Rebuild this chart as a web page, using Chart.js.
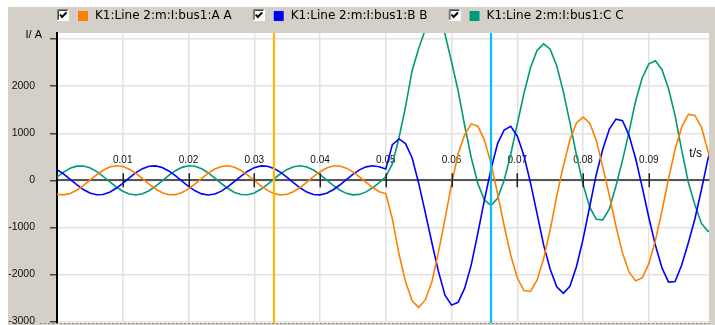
<!DOCTYPE html>
<html>
<head>
<meta charset="utf-8">
<script src="https://cdn.jsdelivr.net/npm/chart.js@4/dist/chart.umd.min.js"></script>
<style>
  html, body { margin: 0; padding: 0; background: #ffffff; }
  canvas { display: block; }
</style>
</head>
<body>
<canvas id="wave" width="715" height="325"></canvas>
<script>
// Sample instants in milliseconds (1 ms recording step)
const timeMs = [
  0, 1, 2, 3, 4, 5, 6, 7, 8, 9, 10, 11, 12, 13, 14, 15, 16, 17, 18, 19,
  20, 21, 22, 23, 24, 25, 26, 27, 28, 29, 30, 31, 32, 33, 34, 35, 36, 37, 38, 39,
  40, 41, 42, 43, 44, 45, 46, 47, 48, 49, 50, 51, 52, 53, 54, 55, 56, 57, 58, 59,
  60, 61, 62, 63, 64, 65, 66, 67, 68, 69, 70, 71, 72, 73, 74, 75, 76, 77, 78, 79,
  80, 81, 82, 83, 84, 85, 86, 87, 88, 89, 90, 91, 92, 93, 94, 95, 96, 97, 98, 99, 100
];

const seriesNames = [
  'K1:Line 2:m:I:bus1:A A',
  'K1:Line 2:m:I:bus1:B B',
  'K1:Line 2:m:I:bus1:C C'
];

// Phase currents in A
const currentA = [
  -296, -309, -279, -210, -112, 3, 117, 214, 282, 310,
  294, 237, 147, 36, -80, -184, -263, -305, -304, -260,
  -180, -74, 42, 152, 241, 296, 309, 279, 210, 112,
  -3, -117, -214, -282, -310, -294, -237, -147, -36, 80,
  184, 263, 305, 304, 260, 180, 74, -42, -152, -241,
  -280, -820, -1560, -2150, -2560, -2700, -2540, -2160, -1530, -825,
  -80, 560, 970, 1200, 1150, 855, 355, -285, -965, -1590,
  -2070, -2340, -2360, -2120, -1665, -1050, -330, 305, 860, 1220,
  1345, 1220, 860, 280, -325, -975, -1545, -1950, -2135, -2070,
  -1770, -1275, -650, 40, 660, 1130, 1400, 1380, 1130, 620, 100
];

const currentB = [
  229, 135, 23, -92, -195, -270, -307, -301, -253, -169,
  -62, 54, 163, 249, 299, 308, 273, 200, 99, -16,
  -129, -223, -287, -310, -290, -229, -135, -23, 92, 195,
  270, 307, 301, 253, 169, 62, -54, -163, -249, -299,
  -308, -273, -200, -99, 16, 129, 223, 287, 310, 290,
  240, 760, 880, 780, 480, -60, -680, -1320, -1930, -2440,
  -2650, -2590, -2290, -1790, -1120, -415, 235, 780, 1070, 1150,
  940, 530, -50, -705, -1370, -1890, -2260, -2400, -2250, -1830,
  -1250, -560, 120, 660, 1090, 1300, 1265, 950, 460, -150,
  -790, -1380, -1860, -2160, -2150, -1800, -1330, -820, -200, 460, 915
];

const currentC = [
  67, 174, 256, 302, 306, 267, 190, 87, -29, -140,
  -232, -291, -310, -285, -220, -124, -10, 105, 205, 276,
  309, 298, 245, 158, 49, -67, -174, -256, -302, -306,
  -267, -190, -87, 29, 140, 232, 291, 310, 285, 220,
  124, 10, -105, -205, -276, -309, -298, -245, -158, -49,
  80, 350, 900, 1560, 2330, 2800, 3200, 3420, 3380, 3110,
  2520, 1900, 1160, 480, -70, -420, -530, -380, 0, 555,
  1200, 1840, 2390, 2760, 2900, 2785, 2430, 1885, 1225, 535,
  -90, -565, -825, -840, -605, -120, 430, 1040, 1690, 2180,
  2475, 2540, 2350, 1945, 1370, 640, -40, -520, -915, -1085, -1010
];

// Axis ticks
const xTickValues = [0.01, 0.02, 0.03, 0.04, 0.05, 0.06, 0.07, 0.08, 0.09];
const yTickValues = [-3000, -2000, -1000, 0, 1000, 2000, 3000];

// Measurement cursors (time in s)
const cursorTimes = [0.033, 0.066];

const seriesColors = ['#ff8000', '#0000ff', '#00997a'];
const cursorColors = ['#ffb700', '#00bff5'];
const PANEL = '#d4d0c8';
const FONT = '"Liberation Sans", Arial, sans-serif';

function toPoints(values) {
  return values.map((v, i) => ({ x: timeMs[i] / 1000, y: v }));
}

const datasets = [currentA, currentB, currentC].map((vals, i) => ({
  label: seriesNames[i],
  data: toPoints(vals),
  borderColor: seriesColors[i],
  backgroundColor: seriesColors[i],
  borderWidth: 1.6,
  pointRadius: 0,
  tension: 0,
  fill: false
}));

function drawCheckbox(ctx, x, y, s) {
  ctx.fillStyle = '#ffffff';
  ctx.fillRect(x, y, s, s);
  ctx.lineWidth = 1;
  ctx.strokeStyle = '#808080';
  ctx.beginPath();
  ctx.moveTo(x + 0.5, y + s - 0.5); ctx.lineTo(x + 0.5, y + 0.5); ctx.lineTo(x + s - 0.5, y + 0.5);
  ctx.stroke();
  ctx.strokeStyle = '#404040';
  ctx.beginPath();
  ctx.moveTo(x + 1.5, y + s - 1.5); ctx.lineTo(x + 1.5, y + 1.5); ctx.lineTo(x + s - 1.5, y + 1.5);
  ctx.stroke();
  ctx.strokeStyle = '#ffffff';
  ctx.beginPath();
  ctx.moveTo(x + 0.5, y + s - 0.5); ctx.lineTo(x + s - 0.5, y + s - 0.5); ctx.lineTo(x + s - 0.5, y + 0.5);
  ctx.stroke();
  ctx.strokeStyle = '#000000';
  ctx.lineWidth = 2;
  ctx.beginPath();
  ctx.moveTo(x + 3, y + 5.5); ctx.lineTo(x + 5, y + 8); ctx.lineTo(x + 9.5, y + 3.5);
  ctx.stroke();
}

const framePlugin = {
  id: 'frame',
  beforeDraw(chart) {
    const { ctx, chartArea: a, width, height } = chart;
    ctx.save();
    ctx.fillStyle = '#ffffff';
    ctx.fillRect(0, 0, width, height);
    ctx.fillStyle = PANEL;
    ctx.fillRect(8, 7, width - 8, height - 7);
    ctx.fillStyle = '#ffffff';
    ctx.fillRect(a.left, a.top, a.right - a.left, a.bottom - a.top);
    ctx.restore();
  },
  afterDatasetsDraw(chart) {
    const { ctx, chartArea: a, scales } = chart;
    const x = scales.x, y = scales.y;
    const zero = y.getPixelForValue(0);
    ctx.save();
    // tick marks crossing the time axis
    ctx.strokeStyle = '#222222';
    ctx.lineWidth = 1.5;
    xTickValues.forEach(t => {
      const px = Math.round(x.getPixelForValue(t)) + 0.25;
      ctx.beginPath();
      ctx.moveTo(px, zero - 7);
      ctx.lineTo(px, zero + 7);
      ctx.stroke();
    });
    // cursors
    cursorTimes.forEach((t, i) => {
      const px = Math.round(x.getPixelForValue(t));
      ctx.strokeStyle = cursorColors[i];
      ctx.lineWidth = 2.2;
      ctx.beginPath();
      ctx.moveTo(px, a.top);
      ctx.lineTo(px, a.bottom);
      ctx.stroke();
    });
    ctx.restore();
  },
  afterDraw(chart) {
    const { ctx, chartArea: a, scales } = chart;
    ctx.save();
    // bottom frame edge
    ctx.strokeStyle = '#8a8a8a';
    ctx.lineWidth = 1;
    ctx.setLineDash([2, 2]);
    ctx.beginPath();
    ctx.moveTo(a.left - 17, Math.round(a.bottom) + 0.5);
    ctx.lineTo(a.right, Math.round(a.bottom) + 0.5);
    ctx.stroke();
    ctx.setLineDash([]);

    // axis captions
    ctx.fillStyle = '#000000';
    ctx.textBaseline = 'middle';
    ctx.textAlign = 'right';
    ctx.font = '11px ' + FONT;
    ctx.fillText('I/ A', a.left - 15, a.top + 1.5);
    ctx.font = '12px ' + FONT;
    ctx.fillText('t/s', a.right - 7, scales.y.getPixelForValue(0) - 27);

    // legend strip
    ctx.textAlign = 'left';
    ctx.font = '12px "DejaVu Sans", sans-serif';
    let lx = a.left;
    chart.data.datasets.forEach(ds => {
      drawCheckbox(ctx, lx, 9, 12);
      ctx.fillStyle = ds.borderColor;
      ctx.fillRect(lx + 21, 11, 10, 10);
      ctx.fillStyle = '#000000';
      ctx.fillText(ds.label, lx + 38, 16);
      lx += 38 + ctx.measureText(ds.label).width + 21;
    });
    ctx.restore();
  }
};

new Chart(document.getElementById('wave'), {
  type: 'line',
  data: { datasets },
  plugins: [framePlugin],
  options: {
    responsive: false,
    devicePixelRatio: 1,
    animation: false,
    events: [],
    layout: { autoPadding: false, padding: { top: 33, right: 6, bottom: 2, left: 0 } },
    plugins: { legend: { display: false }, tooltip: { enabled: false }, title: { display: false } },
    scales: {
      x: {
        type: 'linear',
        position: { y: 0 },
        min: 0,
        max: 0.09915,
        bounds: 'data',
        afterBuildTicks: s => { s.ticks = xTickValues.map(v => ({ value: v })); },
        afterFit: s => { s.paddingLeft = 0; s.paddingRight = 0; },
        grid: { color: '#e2e2e2', lineWidth: 1.5, drawTicks: false },
        border: { display: true, color: '#555555', width: 2 },
        ticks: {
          autoSkip: false,
          maxRotation: 0,
          padding: -26,
          color: '#111111',
          font: { family: FONT, size: 10 },
          callback: v => Number(v).toFixed(2)
        }
      },
      y: {
        type: 'linear',
        position: 'left',
        min: -3030,
        max: 3130,
        bounds: 'data',
        afterBuildTicks: s => { s.ticks = yTickValues.map(v => ({ value: v })); },
        afterFit: s => { s.width = 57; s.paddingTop = 0; s.paddingBottom = 0; },
        grid: { color: '#e2e2e2', lineWidth: 1.5, drawTicks: true, tickLength: 7, tickColor: '#444444' },
        border: { display: true, color: '#000000', width: 2 },
        ticks: {
          padding: 15,
          color: '#111111',
          font: { family: FONT, size: 10.5 },
          callback: v => (v === 3000 ? '' : String(v))
        }
      }
    }
  }
});
</script>
</body>
</html>
